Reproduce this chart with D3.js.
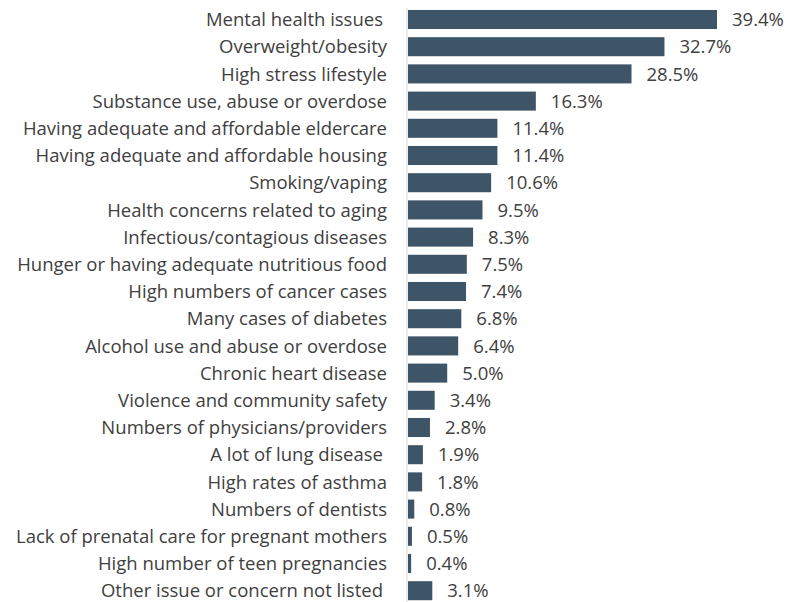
<!DOCTYPE html>
<html><head><meta charset="utf-8">
<script src="https://cdn.jsdelivr.net/npm/d3@7"></script>
<style>body{margin:0;background:#fff}svg{display:block}text{font-family:"Open Sans","Noto Sans",sans-serif}</style>
</head><body>
<svg id="c" width="803" height="602"></svg>
<script>
const categories = ["Mental health issues","Overweight/obesity","High stress lifestyle","Substance use, abuse or overdose","Having adequate and affordable eldercare","Having adequate and affordable housing","Smoking/vaping","Health concerns related to aging","Infectious/contagious diseases","Hunger or having adequate nutritious food","High numbers of cancer cases","Many cases of diabetes","Alcohol use and abuse or overdose","Chronic heart disease","Violence and community safety","Numbers of physicians/providers","A lot of lung disease","High rates of asthma","Numbers of dentists","Lack of prenatal care for pregnant mothers","High number of teen pregnancies","Other issue or concern not listed"];
const values = [39.4,32.7,28.5,16.3,11.4,11.4,10.6,9.5,8.3,7.5,7.4,6.8,6.4,5.0,3.4,2.8,1.9,1.8,0.8,0.5,0.4,3.1];
const labelOffsets = [4,0,0,0,0,0,0,0,0,0,0,0,0,0,0,0,4,0,0,0,0,4];

const svg = d3.select("#c");
const x0 = 408;
const x = d3.scaleLinear().domain([0, 39.4]).range([x0, 717]);
const y = d3.scaleBand().domain(categories).range([5.9, 604.3]).paddingInner(0.3).paddingOuter(0.15);

// fit font size so the longest label spans the reference width
const probe = svg.append("text").attr("font-size", 16).text(categories[19]);
const w = probe.node().getComputedTextLength();
probe.remove();
const fs = 16 * 371 / w;

svg.append("line").attr("x1", x0-1).attr("x2", x0-1).attr("y1", 8).attr("y2", 602)
  .attr("stroke", "#d9d9d9").attr("stroke-width", 1);

svg.selectAll("rect.bar").data(values).join("rect").attr("class","bar")
  .attr("x", x0).attr("y", (d,i)=>y(categories[i]))
  .attr("width", d=>x(d)-x0).attr("height", y.bandwidth())
  .attr("fill", "#3e5568");

svg.selectAll("text.cat").data(categories).join("text").attr("class","cat")
  .attr("x", (d,i)=>387 - labelOffsets[i]).attr("y", d=>y(d)+y.bandwidth()/2)
  .attr("dy","0.36em").attr("text-anchor","end")
  .attr("font-size", fs).attr("fill","#404040").text(d=>d);

svg.selectAll("text.val").data(values).join("text").attr("class","val")
  .attr("x", (d,i)=>x(d)+15).attr("y", (d,i)=>y(categories[i])+y.bandwidth()/2)
  .attr("dy","0.36em").attr("font-size", fs).attr("fill","#404040")
  .text(d=>d.toFixed(1)+"%");
</script>
</body></html>
